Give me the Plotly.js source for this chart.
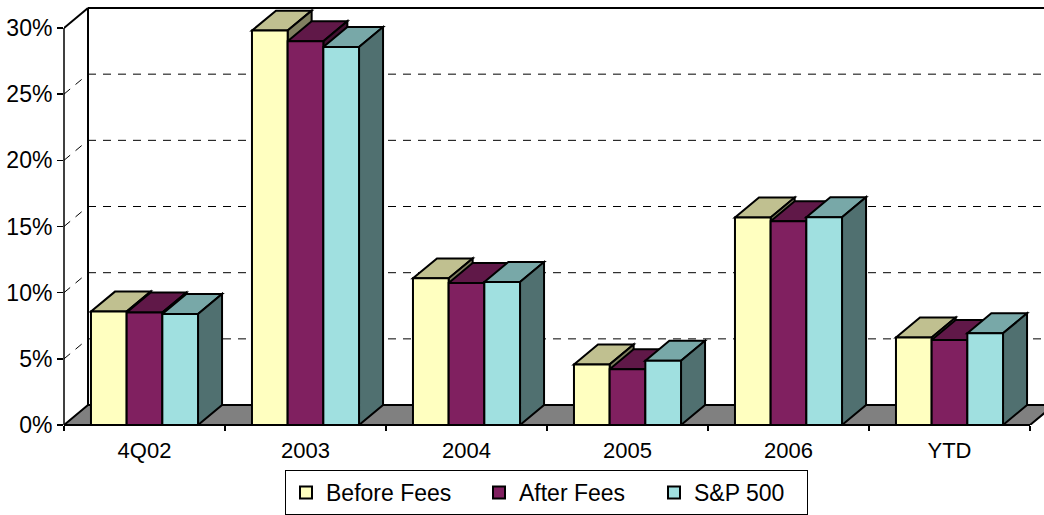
<!DOCTYPE html>
<html><head><meta charset="utf-8">
<script src="https://cdn.plot.ly/plotly-3.0.1.min.js"></script>
<style>html,body{margin:0;padding:0;background:#fff;}#chart{width:1044px;height:515px;}</style>
</head><body><div id="chart"></div>
<script>
// ---- data ----
const categories = ['4Q02', '2003', '2004', '2005', '2006', 'YTD'];
const seriesNames = ['Before Fees', 'After Fees', 'S&P 500'];
const beforeFees = [8.57, 29.8, 11.08, 4.58, 15.68, 6.61];
const afterFees  = [8.5, 29.0, 10.73, 4.22, 15.4, 6.43];
const sp500      = [8.39, 28.56, 10.8, 4.85, 15.7, 6.93];
const yTickVals = [0, 5, 10, 15, 20, 25, 30];
const yTickText = ['0%', '5%', '10%', '15%', '20%', '25%', '30%'];

// ---- style ----
const frontColors = ['#FFFFC0', '#802060', '#A0E0E0'];
const topColors   = ['#C0C090', '#601848', '#78A8A8'];
const sideColors  = ['#808060', '#401030', '#507070'];
const legendWidths = [148, 130, 108];
const W = 1044, H = 515, ML = 64, MR = 0, MT = 4, MB = 89;
const PX_PER_CAT = 161, PX_PER_UNIT = 13.267;
const DX = 24 / PX_PER_CAT, DY = 20 / PX_PER_UNIT;
const BARGAP = 0.335;
const xMin = -0.5, xMax = xMin + (W - ML - MR) / PX_PER_CAT;
const yMin = 0, yMax = (H - MT - MB) / PX_PER_UNIT;

const series = [beforeFees, afterFees, sp500];
const nCat = categories.length;
const xRight = nCat - 0.5;
const wallTop = yTickVals[yTickVals.length - 1];
const barW = (1 - BARGAP) / series.length;
const f = v => v.toFixed(4);
const poly = pts => 'M' + pts.map(p => f(p[0]) + ',' + f(p[1])).join(' L') + ' Z';

const shapes = [];
const edge = {color: '#000', width: 2};
const grid = {color: '#000', width: 1, dash: '8px,7px'};

// back wall gridlines and left wall diagonals
yTickVals.filter(v => v > 0 && v < wallTop).forEach(v => {
  shapes.push({type: 'line', layer: 'below', xref: 'x', yref: 'y',
    x0: xMin + DX, x1: xRight + DX, y0: v + DY, y1: v + DY, line: grid});
  shapes.push({type: 'line', layer: 'below', xref: 'x', yref: 'y',
    x0: xMin, x1: xMin + DX, y0: v, y1: v + DY, line: grid});
});
// wall borders
shapes.push({type: 'line', layer: 'below', xref: 'x', yref: 'y',
  x0: xMin + DX, x1: xMin + DX, y0: DY, y1: wallTop + DY, line: edge});
shapes.push({type: 'line', layer: 'below', xref: 'x', yref: 'y',
  x0: xMin + DX, x1: xRight + DX, y0: wallTop + DY, y1: wallTop + DY, line: edge});
shapes.push({type: 'line', layer: 'below', xref: 'x', yref: 'y',
  x0: xMin, x1: xMin + DX, y0: wallTop, y1: wallTop + DY, line: edge});
shapes.push({type: 'line', layer: 'below', xref: 'paper', yref: 'y',
  x0: 0, x1: 0, y0: 0, y1: wallTop, line: {color: '#000', width: 1.5}});
// floor
shapes.push({type: 'path', layer: 'below', xref: 'x', yref: 'y',
  path: poly([[xMin, 0], [xRight, 0], [xRight + DX, DY], [xMin + DX, DY]]),
  fillcolor: '#808080', line: edge});
// 3D tops and sides of the bars
for (let c = 0; c < nCat; c++) {
  series.forEach((vals, k) => {
    const x0 = c - (1 - BARGAP) / 2 + k * barW, x1 = x0 + barW, h = vals[c];
    shapes.push({type: 'path', layer: 'below', xref: 'x', yref: 'y',
      path: poly([[x0, h], [x1, h], [x1 + DX, h + DY], [x0 + DX, h + DY]]),
      fillcolor: topColors[k], line: edge});
    shapes.push({type: 'path', layer: 'below', xref: 'x', yref: 'y',
      path: poly([[x1, 0], [x1, h], [x1 + DX, h + DY], [x1 + DX, DY]]),
      fillcolor: sideColors[k], line: edge});
  });
}
// front edge of floor
shapes.push({type: 'line', layer: 'above', xref: 'x', yref: 'paper',
  x0: xMin, x1: xRight, y0: 0, y1: 0, line: edge});

const traces = series.map((vals, k) => ({
  type: 'bar', name: seriesNames[k], x: categories, y: vals,
  marker: {color: frontColors[k], line: {color: '#000', width: 2}},
  hoverinfo: 'skip', legendwidth: legendWidths[k]
}));

const layout = {
  width: W, height: H,
  margin: {l: ML, r: MR, t: MT, b: MB, pad: 0},
  paper_bgcolor: '#fff', plot_bgcolor: '#fff',
  barmode: 'group', bargap: BARGAP, bargroupgap: 0,
  font: {family: 'Liberation Sans, Arial, sans-serif', color: '#000'},
  xaxis: {type: 'category', range: [xMin, xMax], showgrid: false, zeroline: false, showline: false,
    ticks: 'outside', tickson: 'boundaries', ticklen: 5, tickwidth: 1.5, tickcolor: '#000',
    ticklabelstandoff: 10, tickfont: {size: 22}},
  yaxis: {range: [yMin, yMax], tickvals: yTickVals, ticktext: yTickText,
    showgrid: false, zeroline: false, showline: false,
    ticks: 'outside', ticklen: 6, tickwidth: 1.5, tickcolor: '#000', tickfont: {size: 23}},
  showlegend: true,
  legend: {orientation: 'h', x: (285 - ML) / (W - ML - MR), xanchor: 'left',
    y: (426 - 471) / (H - MT - MB), yanchor: 'top',
    bordercolor: '#000', borderwidth: 1, bgcolor: '#fff', font: {size: 23}},
  shapes: shapes
};
Plotly.newPlot('chart', traces, layout, {displayModeBar: false, staticPlot: true});
</script></body></html>
